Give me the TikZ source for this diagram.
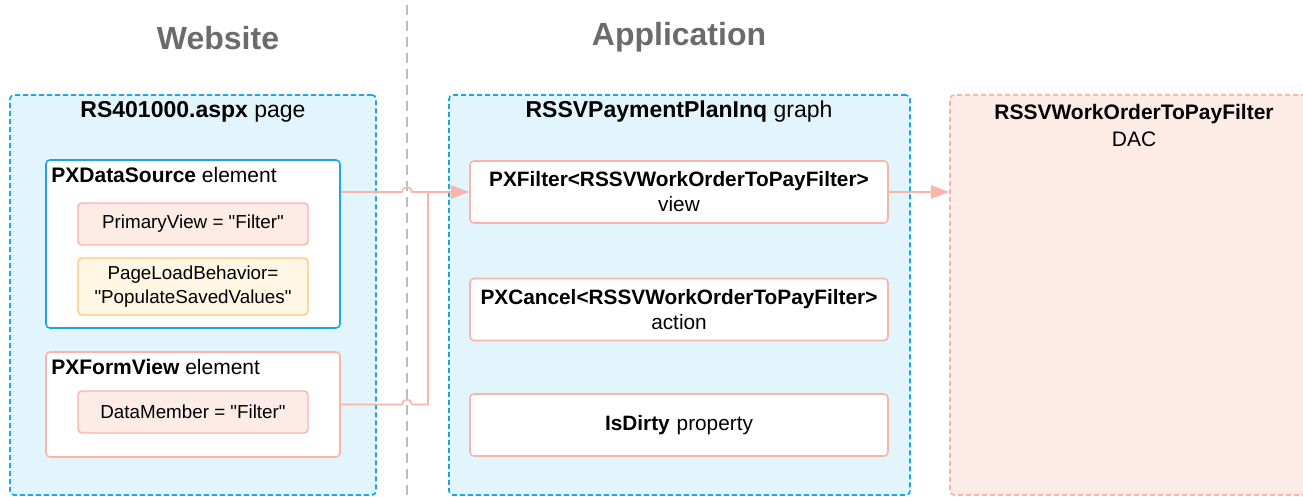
\documentclass[tikz,border=0pt]{standalone}
\usepackage{fontspec}
\setmainfont{Liberation Sans}
\usetikzlibrary{arrows.meta,positioning}
\definecolor{skyline}{HTML}{1EA5E0}
\definecolor{skyfill}{HTML}{E2F5FD}
\definecolor{salmon}{HTML}{F9B5AA}
\definecolor{salmonfill}{HTML}{FDEBE6}
\definecolor{amber}{HTML}{FFC879}
\definecolor{amberfill}{HTML}{FFF6E4}
\definecolor{laneline}{HTML}{BDBDBD}
\definecolor{lanetext}{HTML}{6B6B6B}

\begin{document}
\begin{tikzpicture}[x=1pt, y=1pt,
    container/.style={draw=skyline, fill=skyfill, line width=1.7pt,
        dash pattern=on 5pt off 3pt, rounded corners=4pt, inner sep=0pt},
    dacbox/.style={container, draw=salmon, fill=salmonfill},
    element/.style={draw=salmon, fill=white, line width=1.6pt,
        rounded corners=4pt, inner sep=0pt},
    member/.style={element, align=center, text width=410pt,
        minimum width=418pt, minimum height=62pt,
        font=\fontsize{20.8}{25}\selectfont},
    setting/.style={draw=salmon, fill=salmonfill, line width=1.4pt,
        rounded corners=4pt, align=center, minimum width=230pt,
        font=\fontsize{18.8}{24}\selectfont},
    boxtitle/.style={font=\fontsize{21}{25}\selectfont, inner sep=4pt,
        anchor=north west, xshift=2pt, yshift=-4pt},
    lanetitle/.style={font=\fontsize{32}{36}\selectfont\bfseries, text=lanetext},
    link/.style={draw=salmon, line width=1.6pt},
    linkarrow/.style={link, -{Triangle[length=18pt,width=13pt]}}
]
\clip (0,0) rectangle (1303,496);

% lanes
\draw[laneline, line width=2.2pt, dash pattern=on 10pt off 6pt] (407,491) -- (407,0);
\coordinate (split) at (407,0);
\node[lanetitle] (website) at (218,458) {Website};
\node[lanetitle] (application) at (679,459) {Application};

% website side
\node[container, minimum width=366pt, minimum height=400pt] (page) at (193,201) {};
\node[font=\fontsize{23}{26}\selectfont] (pagetitle) at (193,384) {\textbf{RS401000.aspx} page};

\node[element, draw=skyline, minimum width=294pt, minimum height=168pt] (ds) at (193,252) {};
\node[boxtitle] (dstitle) at (ds.north west) {\textbf{PXDataSource} element};
\node[setting, minimum height=42pt] (primary) at (193,272)
    {PrimaryView = \textquotedbl Filter\textquotedbl};
\node[setting, draw=amber, fill=amberfill, minimum height=57pt] (loadmode) at (193,209.5)
    {PageLoadBehavior=\\\textquotedbl PopulateSavedValues\textquotedbl};

\node[element, minimum width=294pt, minimum height=105pt] (fmv) at (193,91.5) {};
\node[boxtitle] (fmvtitle) at (fmv.north west) {\textbf{PXFormView} element};
\node[setting, minimum height=42pt] (datamember) at (193,84)
    {DataMember = \textquotedbl Filter\textquotedbl};

% application side
\node[container, minimum width=461pt, minimum height=400pt] (graph) at (679.5,201) {};
\node[font=\fontsize{23}{26}\selectfont] (graphtitle) at (679,384) {\textbf{RSSVPaymentPlanInq} graph};
\node[member] (view) at (679,304) {\textbf{PXFilter<RSSVWorkOrderToPayFilter>}\\view};
\node[member] (cancel) at (679,186.5) {\textbf{PXCancel<RSSVWorkOrderToPayFilter>}\\action};
\node[member] (dirty) at (679,71) {\textbf{IsDirty} property};

\node[dacbox, minimum width=368pt, minimum height=400pt] (dac) at (1134,201) {};
\node[font=\fontsize{21}{27}\selectfont, align=center, anchor=north] (dactitle) at (1134,395)
    {\textbf{RSSVWorkOrderToPayFilter}\\DAC};

% links, hopping over the lane line
\coordinate (join) at (428,304);
\draw[linkarrow] (ds.east |- view.west) -- ([xshift=-5pt]view.west -| split)
    arc (180:0:5pt) -- (view.west);
\draw[link] (fmv.east) -- ([xshift=-5pt]fmv.east -| split)
    arc (180:0:5pt) -- (fmv.east -| join) -- (join);
\draw[linkarrow] (view.east) -- (view.east -| dac.west);
\end{tikzpicture}
\end{document}
